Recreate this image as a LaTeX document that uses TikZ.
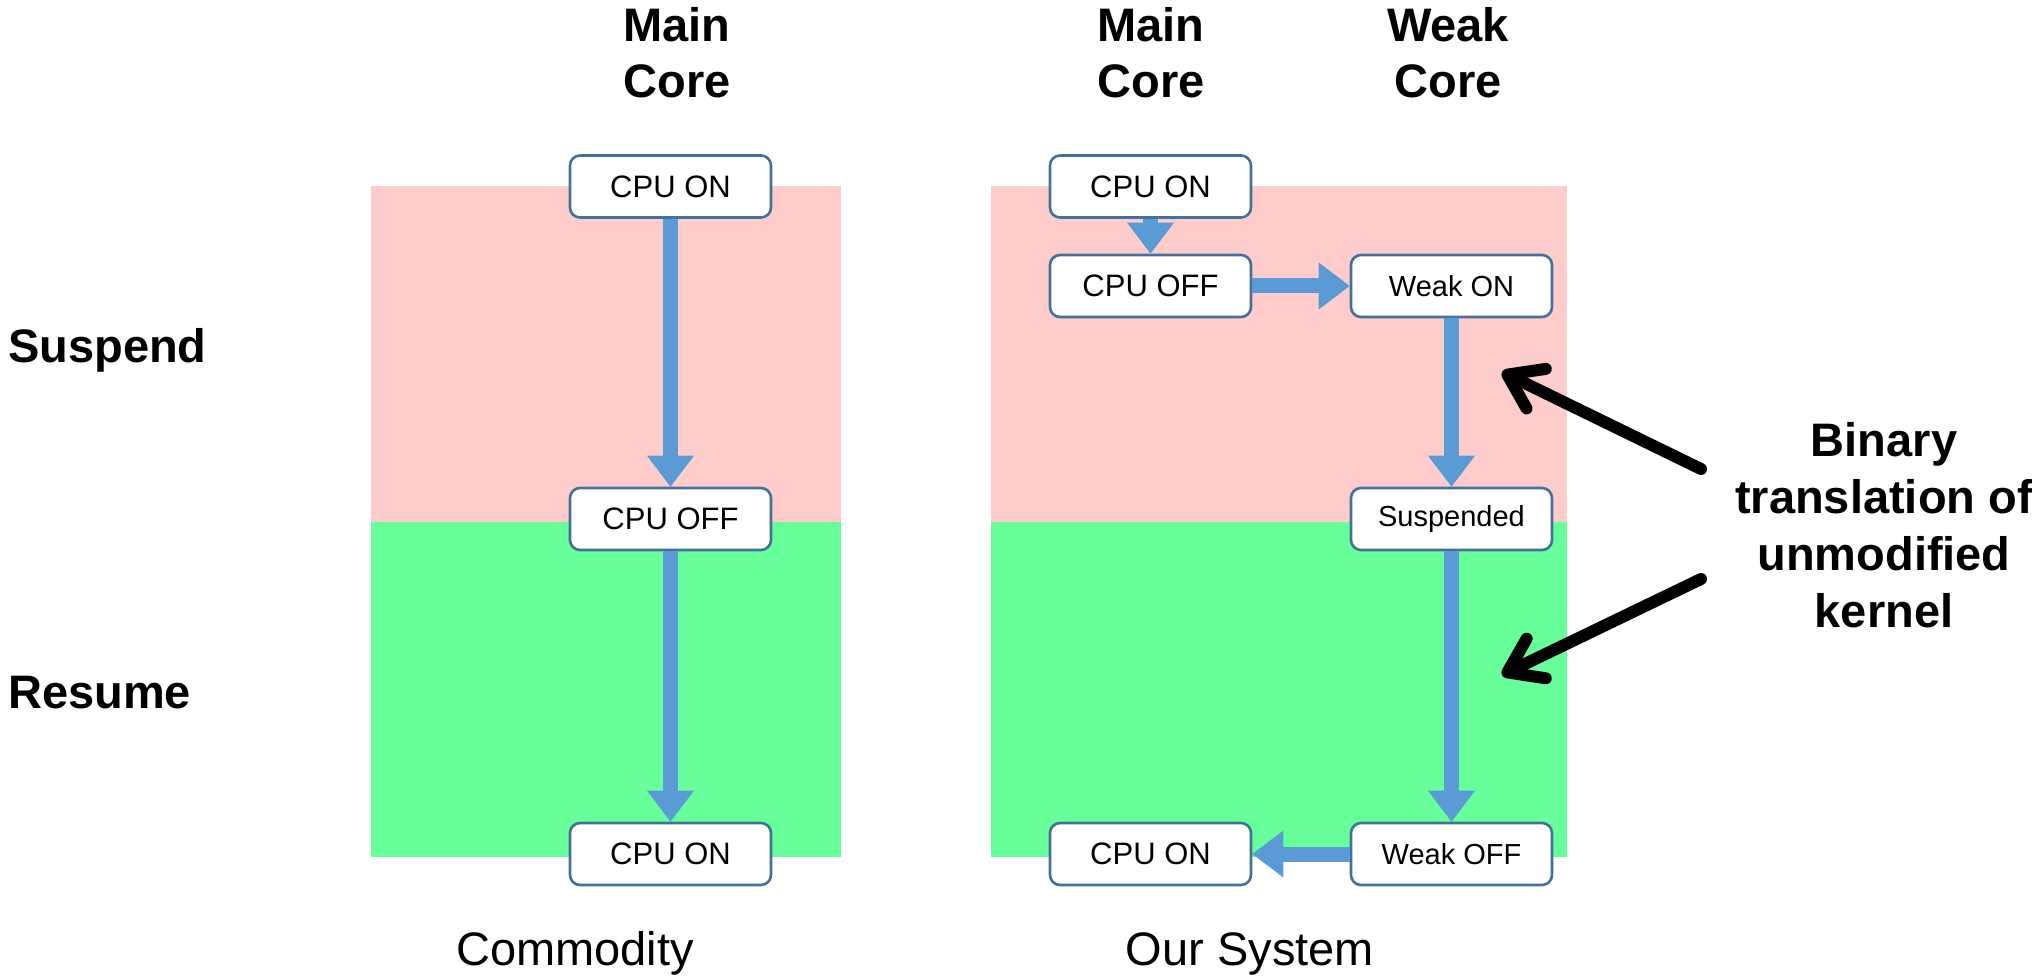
\documentclass[tikz,border=0pt]{standalone}
\usepackage{fontspec}
\setmainfont{Liberation Sans}
\usetikzlibrary{arrows.meta}
\definecolor{suspendpink}{RGB}{255,204,204}
\definecolor{resumegreen}{RGB}{102,255,153}
\definecolor{flowblue}{RGB}{91,155,213}
\definecolor{boxedge}{RGB}{65,113,156}
\begin{document}
\begin{tikzpicture}[x=1pt,y=-1pt,
  state/.style={draw=boxedge, line width=2.6pt, fill=white, rounded corners=10pt,
    minimum width=201pt, minimum height=62pt, inner sep=0pt,
    font=\fontsize{31}{36}\selectfont},
  weakstate/.style={state, font=\fontsize{29}{34}\selectfont},
  flow/.style={draw=flowblue, line width=15pt,
    -{Triangle[width=47pt,length=31pt,line width=0pt]}},
  callout/.style={draw=black, line width=12pt, line cap=round, line join=round,
    -{Straight Barb[round,length=32pt,width=44pt]}},
  heading/.style={font=\fontsize{47}{56}\selectfont\bfseries, align=center, inner sep=0pt},
  phase/.style={font=\fontsize{47}{56}\selectfont\bfseries, inner sep=0pt, anchor=base west},
  caption/.style={font=\fontsize{47}{56}\selectfont, inner sep=0pt, anchor=base}
]
\useasboundingbox (0,0) rectangle (2032,976);

% phase bands
\fill[suspendpink] (371,186) rectangle (841,522);
\fill[resumegreen] (371,522) rectangle (841,857);
\fill[suspendpink] (991,186) rectangle (1567,522);
\fill[resumegreen] (991,522) rectangle (1567,857);

% column headings (anchored on the baseline of the last line)
\node[heading, anchor=base] (hmain) at (677,98) {Main\\Core};
\node[heading, anchor=base] (hmaintwo) at (1151,98) {Main\\Core};
\node[heading, anchor=base] (hweak) at (1448,98) {Weak\\Core};

% phase labels
\node[phase] (lsuspend) at (8,362) {Suspend};
\node[phase] (lresume) at (8,708) {Resume};

% commodity flow
\node[state] (con) at (670.5,186.5) {CPU ON};
\node[state] (coff) at (670.5,519) {CPU OFF};
\node[state] (con2) at (670.5,854) {CPU ON};
\draw[flow] (con) -- (coff);
\draw[flow] (coff) -- (con2);

% our system flow
\node[state] (son) at (1150.5,186.5) {CPU ON};
\node[state] (soff) at (1150.5,286) {CPU OFF};
\node[weakstate] (won) at (1451.5,286) {Weak ON};
\node[weakstate] (wsus) at (1451.5,519) {Suspended};
\node[weakstate] (woff) at (1451.5,854) {Weak OFF};
\node[state] (son2) at (1150.5,854) {CPU ON};
\draw[flow] (son) -- (soff);
\draw[flow] (soff) -- (won);
\draw[flow] (won) -- (wsus);
\draw[flow] (wsus) -- (woff);
\draw[flow] (woff) -- (son2);

% captions
\node[caption] (ccom) at (575,965) {Commodity};
\node[caption] (cours) at (1250,965) {Our System};

% binary translation note
\node[heading, font=\fontsize{47}{57}\selectfont\bfseries, anchor=base] (note) at (1884,627)
  {Binary\\translation of\\unmodified\\kernel};
\coordinate (uptail) at (1701,469);
\coordinate (uptip) at (1502,372);
\coordinate (lowtail) at (1701,579);
\coordinate (lowtip) at (1502,675);
\draw[callout] (uptail) -- (uptip);
\draw[callout] (lowtail) -- (lowtip);
\end{tikzpicture}
\end{document}
